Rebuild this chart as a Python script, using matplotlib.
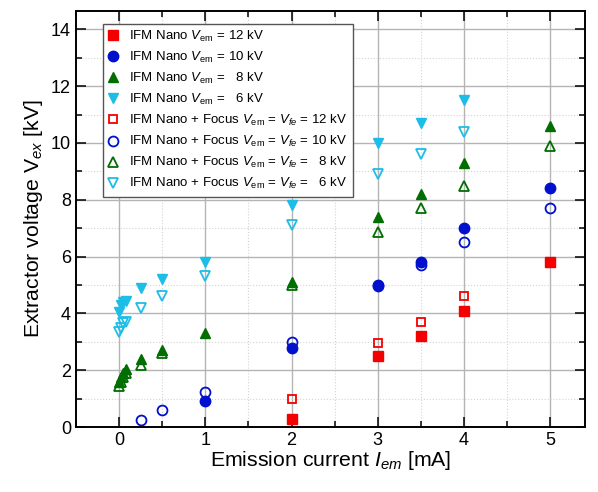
import numpy as np
import matplotlib
matplotlib.use('Agg')
import matplotlib.pyplot as plt
from matplotlib.ticker import MultipleLocator

plt.rcParams['font.family'] = ['Liberation Sans', 'DejaVu Sans']
plt.rcParams['mathtext.fontset'] = 'custom'
plt.rcParams['mathtext.rm'] = 'Liberation Sans'
plt.rcParams['mathtext.it'] = 'Liberation Sans:italic'

# IFM Nano (filled markers)
x12 = [2, 3, 3.5, 4, 5]
v12 = [0.3, 2.5, 3.2, 4.1, 5.8]
x10 = [1, 2, 3, 3.5, 4, 5]
v10 = [0.9, 2.8, 5.0, 5.8, 7.0, 8.4]
x8 = [0, 0.02, 0.05, 0.08, 0.25, 0.5, 1, 2, 3, 3.5, 4, 5]
v8 = [1.6, 1.75, 1.9, 2.05, 2.4, 2.7, 3.3, 5.1, 7.4, 8.2, 9.3, 10.6]
x6 = [0, 0.02, 0.05, 0.08, 0.25, 0.5, 1, 2, 3, 3.5, 4]
v6 = [4.05, 4.3, 4.4, 4.45, 4.9, 5.2, 5.8, 7.8, 10.0, 10.7, 11.5]

# IFM Nano + Focus (open markers)
x12f = [2, 3, 3.5, 4]
v12f = [1.0, 2.95, 3.7, 4.6]
x10f = [0.25, 0.5, 1, 2, 3, 3.5, 4, 5]
v10f = [0.25, 0.6, 1.25, 3.0, 4.95, 5.7, 6.5, 7.7]
x8f = [0, 0.02, 0.05, 0.08, 0.25, 0.5, 2, 3, 3.5, 4, 5]
v8f = [1.45, 1.6, 1.75, 1.9, 2.2, 2.6, 5.0, 6.85, 7.7, 8.5, 9.9]
x6f = [0, 0.02, 0.05, 0.08, 0.25, 0.5, 1, 2, 3, 3.5, 4]
v6f = [3.35, 3.5, 3.65, 3.7, 4.2, 4.6, 5.3, 7.1, 8.9, 9.6, 10.4]

red = '#f50000'
blue = '#0010cc'
green = '#006e00'
cyan = '#1cbde6'

fig = plt.figure(figsize=(5.98, 4.92), dpi=100)
ax = fig.add_axes([0.127, 0.132, 0.851, 0.846])

ms = 7.5
ax.plot(x12, v12, 's', color=red, ms=ms * 0.9, ls='none',
        label=r'IFM Nano $V_{\mathrm{em}}$ = 12 kV')
ax.plot(x10, v10, 'o', color=blue, ms=ms, ls='none',
        label=r'IFM Nano $V_{\mathrm{em}}$ = 10 kV')
ax.plot(x8, v8, '^', color=green, ms=ms * 1.05, ls='none',
        label=r'IFM Nano $V_{\mathrm{em}}$ =   8 kV')
ax.plot(x6, v6, 'v', color=cyan, ms=ms * 1.05, ls='none',
        label=r'IFM Nano $V_{\mathrm{em}}$ =   6 kV')
ax.plot(x12f, v12f, 's', mec=red, mfc='none', mew=1.3, ms=ms * 0.85, ls='none',
        label=r'IFM Nano + Focus $V_{\mathrm{em}}$ = $V_{fe}$ = 12 kV')
ax.plot(x10f, v10f, 'o', mec=blue, mfc='none', mew=1.3, ms=ms * 0.95, ls='none',
        label=r'IFM Nano + Focus $V_{\mathrm{em}}$ = $V_{fe}$ = 10 kV')
ax.plot(x8f, v8f, '^', mec=green, mfc='none', mew=1.3, ms=ms, ls='none',
        label=r'IFM Nano + Focus $V_{\mathrm{em}}$ = $V_{fe}$ =   8 kV')
ax.plot(x6f, v6f, 'v', mec=cyan, mfc='none', mew=1.3, ms=ms, ls='none',
        label=r'IFM Nano + Focus $V_{\mathrm{em}}$ = $V_{fe}$ =   6 kV')

ax.set_xlim(-0.5, 5.4)
ax.set_ylim(0, 14.65)
ax.xaxis.set_major_locator(MultipleLocator(1))
ax.xaxis.set_minor_locator(MultipleLocator(0.5))
ax.yaxis.set_major_locator(MultipleLocator(2))
ax.yaxis.set_minor_locator(MultipleLocator(1))

ax.grid(which='major', color='#b4b4b4', lw=1.0, ls='-')
ax.grid(which='minor', color='#d4d4d4', lw=0.8, ls=':')
ax.set_axisbelow(True)

ax.tick_params(which='both', direction='in', top=True, right=True, labelsize=13,
               width=1.1, color='black')
ax.tick_params(which='major', length=7)
ax.tick_params(which='minor', length=4)
for s in ax.spines.values():
    s.set_linewidth(1.4)

ax.set_xlabel(r'Emission current $I_{em}$ [mA]', fontsize=15.3, labelpad=0)
ax.set_ylabel(r'Extractor voltage V$_{ex}$ [kV]', fontsize=15.3, labelpad=4)

leg = ax.legend(loc='upper left', bbox_to_anchor=(0.04, 0.985), fontsize=9.5,
                handlelength=0.8, handletextpad=0.8, labelspacing=0.45,
                borderpad=0.4, fancybox=False, framealpha=1, edgecolor='#555555')
leg.get_frame().set_linewidth(1.0)

fig.savefig('out.png', dpi=100)
